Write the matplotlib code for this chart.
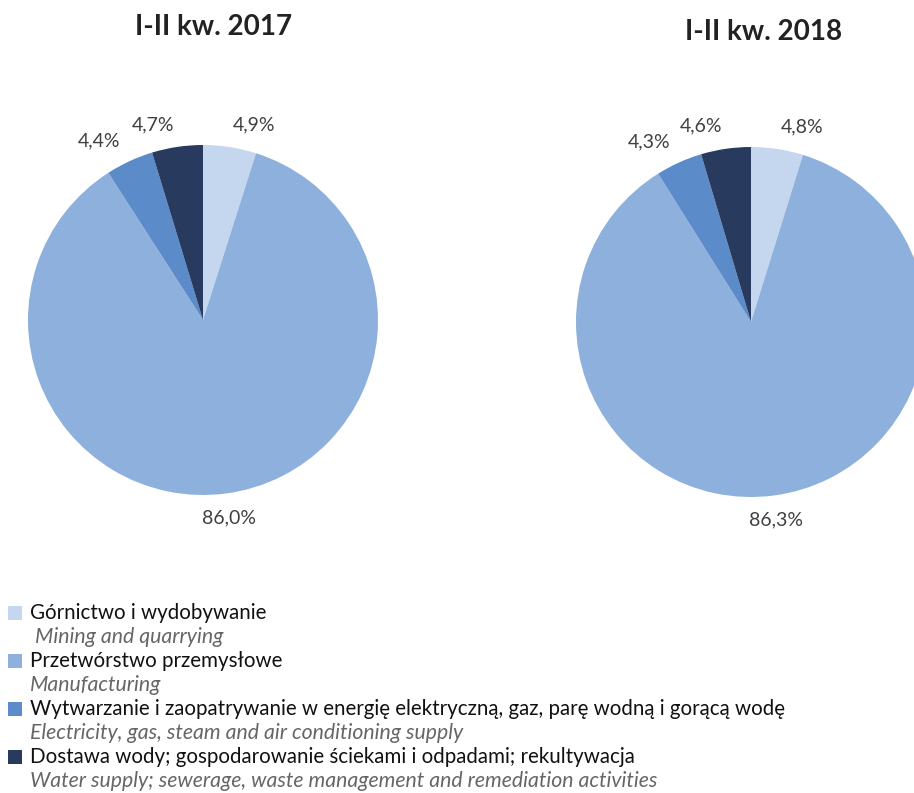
import matplotlib
matplotlib.use("Agg")
import matplotlib.pyplot as plt
from matplotlib.patches import Rectangle

plt.rcParams['font.family'] = ['Lato', 'DejaVu Sans']

categories_pl = [
    "Górnictwo i wydobywanie",
    "Przetwórstwo przemysłowe",
    "Wytwarzanie i zaopatrywanie w energię elektryczną, gaz, parę wodną i gorącą wodę",
    "Dostawa wody; gospodarowanie ściekami i odpadami; rekultywacja",
]
categories_en = [
    " Mining and quarrying",
    "Manufacturing",
    "Electricity, gas, steam and air conditioning supply",
    "Water supply; sewerage, waste management and remediation activities",
]
values_2017 = [4.9, 86.0, 4.4, 4.7]
values_2018 = [4.8, 86.3, 4.3, 4.6]
titles = ["I-II kw. 2017", "I-II kw. 2018"]
colors = ["#C5D7EE", "#8EB0DC", "#5B8BC8", "#283A5E"]

W, H = 914, 793
fig = plt.figure(figsize=(W / 100, H / 100), dpi=100)

def make_pie(cx, cy, r, vals, title, tx, ty):
    ax = fig.add_axes([(cx - r) / W, (H - cy - r) / H, 2 * r / W, 2 * r / H])
    labels = [f"{v:.1f}%".replace(".", ",") for v in vals]
    wedges, texts = ax.pie(vals, colors=colors, startangle=90, counterclock=False,
                           labels=labels, labeldistance=1.12,
                           textprops=dict(fontsize=14, color="#404040"))
    for t in texts:
        t.set_verticalalignment("center")
        x, y = t.get_position()
        if y < 0:
            t.set_horizontalalignment("center")
            t.set_position((x, y - 0.02))
        else:
            t.set_position((x, y + 0.01))
    ax.set_xlim(-1, 1)
    ax.set_ylim(-1, 1)
    ax.set_aspect("equal")
    ax.axis("off")
    fig.text(tx / W, 1 - ty / H, title, fontsize=20, fontweight="bold",
             color="#222222", ha="center", va="center")
    return ax

make_pie(203, 320, 175, values_2017, titles[0], 214, 27)
make_pie(751, 322, 175, values_2018, titles[1], 764, 32)

y0 = 613
step = 24.0
for i, (pl, en) in enumerate(zip(categories_pl, categories_en)):
    y = y0 + 2 * i * step
    fig.patches.append(Rectangle((8 / W, 1 - (y + 7) / H), 14 / W, 14 / H,
                                 transform=fig.transFigure, facecolor=colors[i],
                                 edgecolor="none"))
    fig.text(30 / W, 1 - y / H, pl, fontsize=14.8, color="#111111", va="center", ha="left")
    fig.text(30 / W, 1 - (y + step) / H, en, fontsize=15.3, color="#666666",
             style="italic", va="center", ha="left")

fig.savefig("out.png", dpi=100)
